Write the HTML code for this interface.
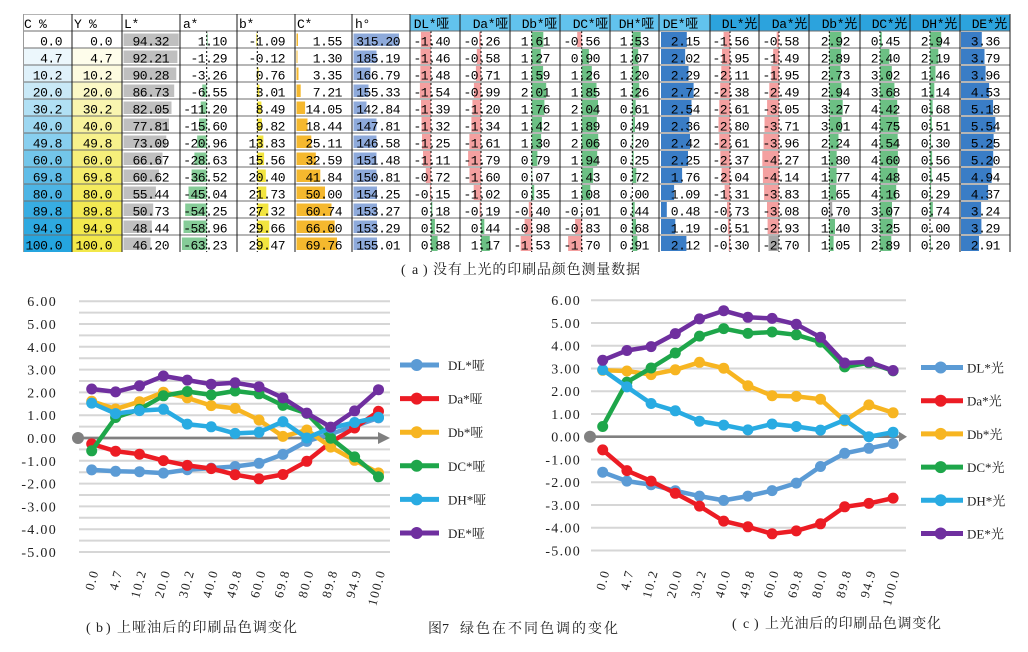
<!DOCTYPE html>
<html>
<head>
<meta charset="utf-8">
<style>
html,body{margin:0;padding:0;background:#fff;}
svg{display:block;}
.tx text{font-family:"Liberation Mono","Noto Sans CJK SC",monospace;font-size:13px;letter-spacing:-0.5px;text-anchor:end;fill:#000;}
.hd text{font-family:"Liberation Mono","Noto Sans CJK SC",monospace;font-size:13px;letter-spacing:-0.3px;fill:#000;}
.p{fill:#f4a0a0;}
.g{fill:#6cc084;}
.b{fill:#3a7dc6;}
.L{fill:#bfbfbf;}
.A{fill:#86cc98;}
.Y{fill:#f2e43f;}
.O{fill:#f5b82e;}
.H{fill:#8eaadb;}
.ax text{font-family:"Liberation Serif","Noto Serif CJK SC",serif;font-size:14px;letter-spacing:1.3px;text-anchor:end;fill:#222;}
.xl text{font-family:"Liberation Serif","Noto Serif CJK SC",serif;font-size:13px;letter-spacing:1.5px;text-anchor:end;fill:#222;}
.lg text{font-family:"Liberation Serif","Noto Serif CJK SC",serif;font-size:13px;fill:#222;}
.cap{font-family:"Liberation Serif","Noto Serif CJK SC",serif;font-size:14px;fill:#222;}
.grid line{stroke:#d6d6d6;stroke-width:2;}
.ser polyline{fill:none;stroke-width:4.5;stroke-linejoin:round;stroke-linecap:round;}
</style>
</head>
<body>
<svg width="1028" height="652" viewBox="0 0 1028 652" xmlns="http://www.w3.org/2000/svg">
<defs>
<marker id="m1" markerWidth="14" markerHeight="14" refX="7" refY="7" markerUnits="userSpaceOnUse"><circle cx="7" cy="7" r="5.5" fill="#5b9bd5"/></marker>
<marker id="m2" markerWidth="14" markerHeight="14" refX="7" refY="7" markerUnits="userSpaceOnUse"><circle cx="7" cy="7" r="5.5" fill="#ec1c24"/></marker>
<marker id="m3" markerWidth="14" markerHeight="14" refX="7" refY="7" markerUnits="userSpaceOnUse"><circle cx="7" cy="7" r="5.5" fill="#f7b521"/></marker>
<marker id="m4" markerWidth="14" markerHeight="14" refX="7" refY="7" markerUnits="userSpaceOnUse"><circle cx="7" cy="7" r="5.5" fill="#1ea64a"/></marker>
<marker id="m5" markerWidth="14" markerHeight="14" refX="7" refY="7" markerUnits="userSpaceOnUse"><circle cx="7" cy="7" r="5.5" fill="#29abe2"/></marker>
<marker id="m6" markerWidth="14" markerHeight="14" refX="7" refY="7" markerUnits="userSpaceOnUse"><circle cx="7" cy="7" r="5.5" fill="#6f2f9f"/></marker>
</defs>

<!-- ============ TABLE ============ -->
<rect x="410" y="14" width="300" height="17" fill="#62c3ee"/>
<rect x="710" y="14" width="300" height="17" fill="#2ca3dd"/>

<g class="hd">
<text x="24" y="28">C %</text>
<text x="74" y="28">Y %</text>
<text x="124" y="28">L*</text>
<text x="183" y="28">a*</text>
<text x="239" y="28">b*</text>
<text x="297" y="28">C*</text>
<text x="355" y="28">h°</text>
<text x="449" y="28" text-anchor="end">DL*哑</text>
<text x="508" y="28" text-anchor="end">Da*哑</text>
<text x="557" y="28" text-anchor="end">Db*哑</text>
<text x="608" y="28" text-anchor="end">DC*哑</text>
<text x="654" y="28" text-anchor="end">DH*哑</text>
<text x="698" y="28" text-anchor="end">DE*哑</text>
<text x="757" y="28" text-anchor="end">DL*光</text>
<text x="807" y="28" text-anchor="end">Da*光</text>
<text x="857" y="28" text-anchor="end">Db*光</text>
<text x="907" y="28" text-anchor="end">DC*光</text>
<text x="957" y="28" text-anchor="end">DH*光</text>
<text x="1007" y="28" text-anchor="end">DE*光</text>
</g>

<!-- Row 0 -->
<g transform="translate(0,31)">
<rect x="23" y="0" width="49" height="17" fill="#ffffff"/><rect x="72" y="0" width="50" height="17" fill="#ffffff"/>
<rect class="L" x="123.5" y="2.5" width="55.2" height="12.5"/>
<rect class="A" x="206.7" y="2.5" width="1" height="12.5"/>
<rect class="Y" x="256.3" y="2.5" width="1" height="12.5"/>
<rect class="O" x="296.5" y="2.5" width="1.5" height="12.5"/>
<rect class="H" x="353.5" y="2.5" width="45.5" height="12.5"/>
<rect class="p" x="420.9" y="1" width="10.1" height="15"/>
<rect class="p" x="479.1" y="1" width="1.9" height="15"/>
<rect class="g" x="531.7" y="1" width="11.6" height="15"/>
<rect class="p" x="577.2" y="1" width="4.5" height="15"/>
<rect class="g" x="632.3" y="1" width="8.4" height="15"/>
<rect class="b" x="661" y="1" width="25.8" height="15"/>
<rect class="p" x="723.6" y="1" width="6.4" height="15"/>
<rect class="p" x="776.7" y="1" width="2.3" height="15"/>
<rect class="g" x="829.3" y="1" width="12" height="15"/>
<rect class="g" x="880" y="1" width="1.8" height="15"/>
<rect class="g" x="930" y="1" width="11.2" height="15"/>
<rect class="b" x="961" y="1" width="20.8" height="15"/>
<g class="tx">
<text x="62" y="14.5">0.0</text><text x="112" y="14.5">0.0</text><text x="169" y="14.5">94.32</text><text x="227" y="14.5">1.10</text><text x="285" y="14.5">-1.09</text><text x="342" y="14.5">1.55</text><text x="400" y="14.5">315.20</text>
<text x="450" y="14.5">-1.40</text><text x="500" y="14.5">-0.26</text><text x="550" y="14.5">1.61</text><text x="600" y="14.5">-0.56</text><text x="649" y="14.5">1.53</text><text x="700" y="14.5">2.15</text>
<text x="749" y="14.5">-1.56</text><text x="799" y="14.5">-0.58</text><text x="850" y="14.5">2.92</text><text x="900" y="14.5">0.45</text><text x="950" y="14.5">2.94</text><text x="1000" y="14.5">3.36</text>
</g></g>

<!-- Row 1 -->
<g transform="translate(0,48)">
<rect x="23" y="0" width="49" height="17" fill="#ecf7fc"/><rect x="72" y="0" width="50" height="17" fill="#fefdeb"/>
<rect class="L" x="123.5" y="2.5" width="53.9" height="12.5"/>
<rect class="H" x="353.5" y="2.5" width="23" height="12.5"/>
<rect class="O" x="296.5" y="2.5" width="1" height="12.5"/>
<rect class="p" x="420.5" y="1" width="10.5" height="15"/>
<rect class="p" x="476.8" y="1" width="4.2" height="15"/>
<rect class="g" x="531.7" y="1" width="9.1" height="15"/>
<rect class="g" x="581.7" y="1" width="7.2" height="15"/>
<rect class="g" x="632.3" y="1" width="5.9" height="15"/>
<rect class="b" x="661" y="1" width="24.2" height="15"/>
<rect class="p" x="722" y="1" width="8" height="15"/>
<rect class="p" x="773.2" y="1" width="5.8" height="15"/>
<rect class="g" x="829.3" y="1" width="11.8" height="15"/>
<rect class="g" x="880" y="1" width="9.4" height="15"/>
<rect class="g" x="930" y="1" width="8.3" height="15"/>
<rect class="b" x="961" y="1" width="23.5" height="15"/>
<g class="tx">
<text x="62" y="14.5">4.7</text><text x="112" y="14.5">4.7</text><text x="169" y="14.5">92.21</text><text x="227" y="14.5">-1.29</text><text x="285" y="14.5">-0.12</text><text x="342" y="14.5">1.30</text><text x="400" y="14.5">185.19</text>
<text x="450" y="14.5">-1.46</text><text x="500" y="14.5">-0.58</text><text x="550" y="14.5">1.27</text><text x="600" y="14.5">0.90</text><text x="649" y="14.5">1.07</text><text x="700" y="14.5">2.02</text>
<text x="749" y="14.5">-1.95</text><text x="799" y="14.5">-1.49</text><text x="850" y="14.5">2.89</text><text x="900" y="14.5">2.40</text><text x="950" y="14.5">2.19</text><text x="1000" y="14.5">3.79</text>
</g></g>

<!-- Row 2 -->
<g transform="translate(0,65)">
<rect x="23" y="0" width="49" height="17" fill="#dff1fa"/><rect x="72" y="0" width="50" height="17" fill="#fdfbdf"/>
<rect class="L" x="123.5" y="2.5" width="52.8" height="12.5"/>
<rect class="Y" x="257.3" y="2.5" width="1.3" height="12.5"/>
<rect class="O" x="296.5" y="2.5" width="2" height="12.5"/>
<rect class="H" x="353.5" y="2.5" width="17" height="12.5"/>
<rect class="p" x="420.3" y="1" width="10.7" height="15"/>
<rect class="p" x="475.9" y="1" width="5.1" height="15"/>
<rect class="g" x="531.7" y="1" width="11.4" height="15"/>
<rect class="g" x="581.7" y="1" width="10.1" height="15"/>
<rect class="g" x="632.3" y="1" width="6.6" height="15"/>
<rect class="b" x="661" y="1" width="27.5" height="15"/>
<rect class="p" x="721.3" y="1" width="8.7" height="15"/>
<rect class="p" x="771.4" y="1" width="7.6" height="15"/>
<rect class="g" x="829.3" y="1" width="11.2" height="15"/>
<rect class="g" x="880" y="1" width="11.8" height="15"/>
<rect class="g" x="930" y="1" width="5.5" height="15"/>
<rect class="b" x="961" y="1" width="24.6" height="15"/>
<g class="tx">
<text x="62" y="14.5">10.2</text><text x="112" y="14.5">10.2</text><text x="169" y="14.5">90.28</text><text x="227" y="14.5">-3.26</text><text x="285" y="14.5">0.76</text><text x="342" y="14.5">3.35</text><text x="400" y="14.5">166.79</text>
<text x="450" y="14.5">-1.48</text><text x="500" y="14.5">-0.71</text><text x="550" y="14.5">1.59</text><text x="600" y="14.5">1.26</text><text x="649" y="14.5">1.20</text><text x="700" y="14.5">2.29</text>
<text x="749" y="14.5">-2.11</text><text x="799" y="14.5">-1.95</text><text x="850" y="14.5">2.73</text><text x="900" y="14.5">3.02</text><text x="950" y="14.5">1.46</text><text x="1000" y="14.5">3.96</text>
</g></g>

<!-- Row 3 -->
<g transform="translate(0,82)">
<rect x="23" y="0" width="49" height="17" fill="#c9e9f7"/><rect x="72" y="0" width="50" height="17" fill="#fbf8c6"/>
<rect class="L" x="123.5" y="2.5" width="50.7" height="12.5"/>
<rect class="A" x="202.3" y="2.5" width="4.4" height="12.5"/>
<rect class="Y" x="257.3" y="2.5" width="2.1" height="12.5"/>
<rect class="O" x="296.5" y="2.5" width="4.2" height="12.5"/>
<rect class="H" x="353.5" y="2.5" width="15" height="12.5"/>
<rect class="p" x="419.9" y="1" width="11.1" height="15"/>
<rect class="p" x="473.9" y="1" width="7.1" height="15"/>
<rect class="g" x="531.7" y="1" width="14.5" height="15"/>
<rect class="g" x="581.7" y="1" width="14.8" height="15"/>
<rect class="g" x="632.3" y="1" width="6.9" height="15"/>
<rect class="b" x="661" y="1" width="32.6" height="15"/>
<rect class="p" x="720.2" y="1" width="9.8" height="15"/>
<rect class="p" x="769.3" y="1" width="9.7" height="15"/>
<rect class="g" x="829.3" y="1" width="12.1" height="15"/>
<rect class="g" x="880" y="1" width="14.4" height="15"/>
<rect class="g" x="930" y="1" width="4.3" height="15"/>
<rect class="b" x="961" y="1" width="28.1" height="15"/>
<g class="tx">
<text x="62" y="14.5">20.0</text><text x="112" y="14.5">20.0</text><text x="169" y="14.5">86.73</text><text x="227" y="14.5">-6.55</text><text x="285" y="14.5">3.01</text><text x="342" y="14.5">7.21</text><text x="400" y="14.5">155.33</text>
<text x="450" y="14.5">-1.54</text><text x="500" y="14.5">-0.99</text><text x="550" y="14.5">2.01</text><text x="600" y="14.5">1.85</text><text x="649" y="14.5">1.26</text><text x="700" y="14.5">2.72</text>
<text x="749" y="14.5">-2.38</text><text x="799" y="14.5">-2.49</text><text x="850" y="14.5">2.94</text><text x="900" y="14.5">3.68</text><text x="950" y="14.5">1.14</text><text x="1000" y="14.5">4.53</text>
</g></g>

<!-- Row 4 -->
<g transform="translate(0,99)">
<rect x="23" y="0" width="49" height="17" fill="#b1e0f4"/><rect x="72" y="0" width="50" height="17" fill="#f9f5b0"/>
<rect class="L" x="123.5" y="2.5" width="48" height="12.5"/>
<rect class="A" x="200.7" y="2.5" width="6" height="12.5"/>
<rect class="Y" x="257.3" y="2.5" width="4.1" height="12.5"/>
<rect class="O" x="296.5" y="2.5" width="8.6" height="12.5"/>
<rect class="H" x="353.5" y="2.5" width="13" height="12.5"/>
<rect class="p" x="421" y="1" width="10" height="15"/>
<rect class="p" x="472.4" y="1" width="8.6" height="15"/>
<rect class="g" x="531.7" y="1" width="12.7" height="15"/>
<rect class="g" x="581.7" y="1" width="16.3" height="15"/>
<rect class="g" x="632.3" y="1" width="3.4" height="15"/>
<rect class="b" x="661" y="1" width="30.5" height="15"/>
<rect class="p" x="719.3" y="1" width="10.7" height="15"/>
<rect class="p" x="767.1" y="1" width="11.9" height="15"/>
<rect class="g" x="829.3" y="1" width="13.4" height="15"/>
<rect class="g" x="880" y="1" width="17.2" height="15"/>
<rect class="g" x="930" y="1" width="2.6" height="15"/>
<rect class="b" x="961" y="1" width="32.1" height="15"/>
<g class="tx">
<text x="62" y="14.5">30.2</text><text x="112" y="14.5">30.2</text><text x="169" y="14.5">82.05</text><text x="227" y="14.5">-11.20</text><text x="285" y="14.5">8.49</text><text x="342" y="14.5">14.05</text><text x="400" y="14.5">142.84</text>
<text x="450" y="14.5">-1.39</text><text x="500" y="14.5">-1.20</text><text x="550" y="14.5">1.76</text><text x="600" y="14.5">2.04</text><text x="649" y="14.5">0.61</text><text x="700" y="14.5">2.54</text>
<text x="749" y="14.5">-2.61</text><text x="799" y="14.5">-3.05</text><text x="850" y="14.5">3.27</text><text x="900" y="14.5">4.42</text><text x="950" y="14.5">0.68</text><text x="1000" y="14.5">5.18</text>
</g></g>

<!-- Row 5 -->
<g transform="translate(0,116)">
<rect x="23" y="0" width="49" height="17" fill="#9dd7f1"/><rect x="72" y="0" width="50" height="17" fill="#f8f39d"/>
<rect class="L" x="123.5" y="2.5" width="45.5" height="12.5"/>
<rect class="A" x="199.1" y="2.5" width="7.6" height="12.5"/>
<rect class="Y" x="257.3" y="2.5" width="4.6" height="12.5"/>
<rect class="O" x="296.5" y="2.5" width="11" height="12.5"/>
<rect class="H" x="353.5" y="2.5" width="23" height="12.5"/>
<rect class="p" x="421.5" y="1" width="9.5" height="15"/>
<rect class="p" x="471.4" y="1" width="9.6" height="15"/>
<rect class="g" x="531.7" y="1" width="10.2" height="15"/>
<rect class="g" x="581.7" y="1" width="15.1" height="15"/>
<rect class="g" x="632.3" y="1" width="2.7" height="15"/>
<rect class="b" x="661" y="1" width="28.3" height="15"/>
<rect class="p" x="718.5" y="1" width="11.5" height="15"/>
<rect class="p" x="764.5" y="1" width="14.5" height="15"/>
<rect class="g" x="829.3" y="1" width="12.3" height="15"/>
<rect class="g" x="880" y="1" width="18.5" height="15"/>
<rect class="g" x="930" y="1" width="1.9" height="15"/>
<rect class="b" x="961" y="1" width="34.3" height="15"/>
<g class="tx">
<text x="62" y="14.5">40.0</text><text x="112" y="14.5">40.0</text><text x="169" y="14.5">77.81</text><text x="227" y="14.5">-15.60</text><text x="285" y="14.5">9.82</text><text x="342" y="14.5">18.44</text><text x="400" y="14.5">147.81</text>
<text x="450" y="14.5">-1.32</text><text x="500" y="14.5">-1.34</text><text x="550" y="14.5">1.42</text><text x="600" y="14.5">1.89</text><text x="649" y="14.5">0.49</text><text x="700" y="14.5">2.36</text>
<text x="749" y="14.5">-2.80</text><text x="799" y="14.5">-3.71</text><text x="850" y="14.5">3.01</text><text x="900" y="14.5">4.75</text><text x="950" y="14.5">0.51</text><text x="1000" y="14.5">5.54</text>
</g></g>

<!-- Row 6 -->
<g transform="translate(0,133)">
<rect x="23" y="0" width="49" height="17" fill="#88cfef"/><rect x="72" y="0" width="50" height="17" fill="#f7f18c"/>
<rect class="L" x="123.5" y="2.5" width="42.8" height="12.5"/>
<rect class="A" x="197.2" y="2.5" width="9.5" height="12.5"/>
<rect class="Y" x="257.3" y="2.5" width="6.1" height="12.5"/>
<rect class="O" x="296.5" y="2.5" width="14.8" height="12.5"/>
<rect class="H" x="353.5" y="2.5" width="23" height="12.5"/>
<rect class="p" x="422" y="1" width="9" height="15"/>
<rect class="p" x="469.4" y="1" width="11.6" height="15"/>
<rect class="g" x="531.7" y="1" width="9.4" height="15"/>
<rect class="g" x="581.7" y="1" width="16.5" height="15"/>
<rect class="g" x="632.3" y="1" width="1.1" height="15"/>
<rect class="b" x="661" y="1" width="29" height="15"/>
<rect class="p" x="719.3" y="1" width="10.7" height="15"/>
<rect class="p" x="763.6" y="1" width="15.4" height="15"/>
<rect class="g" x="829.3" y="1" width="9.2" height="15"/>
<rect class="g" x="880" y="1" width="17.7" height="15"/>
<rect class="g" x="930" y="1" width="1.1" height="15"/>
<rect class="b" x="961" y="1" width="32.6" height="15"/>
<g class="tx">
<text x="62" y="14.5">49.8</text><text x="112" y="14.5">49.8</text><text x="169" y="14.5">73.09</text><text x="227" y="14.5">-20.96</text><text x="285" y="14.5">13.83</text><text x="342" y="14.5">25.11</text><text x="400" y="14.5">146.58</text>
<text x="450" y="14.5">-1.25</text><text x="500" y="14.5">-1.61</text><text x="550" y="14.5">1.30</text><text x="600" y="14.5">2.06</text><text x="649" y="14.5">0.20</text><text x="700" y="14.5">2.42</text>
<text x="749" y="14.5">-2.61</text><text x="799" y="14.5">-3.96</text><text x="850" y="14.5">2.24</text><text x="900" y="14.5">4.54</text><text x="950" y="14.5">0.30</text><text x="1000" y="14.5">5.25</text>
</g></g>

<!-- Row 7 -->
<g transform="translate(0,150)">
<rect x="23" y="0" width="49" height="17" fill="#73c6ea"/><rect x="72" y="0" width="50" height="17" fill="#f6ef7b"/>
<rect class="L" x="123.5" y="2.5" width="39" height="12.5"/>
<rect class="A" x="194.4" y="2.5" width="12.3" height="12.5"/>
<rect class="Y" x="257.3" y="2.5" width="6.8" height="12.5"/>
<rect class="O" x="296.5" y="2.5" width="19.3" height="12.5"/>
<rect class="H" x="353.5" y="2.5" width="23" height="12.5"/>
<rect class="p" x="423" y="1" width="8" height="15"/>
<rect class="p" x="468.1" y="1" width="12.9" height="15"/>
<rect class="g" x="531.7" y="1" width="5.7" height="15"/>
<rect class="g" x="581.7" y="1" width="15.5" height="15"/>
<rect class="g" x="632.3" y="1" width="1.4" height="15"/>
<rect class="b" x="661" y="1" width="27" height="15"/>
<rect class="p" x="720.3" y="1" width="9.7" height="15"/>
<rect class="p" x="762.3" y="1" width="16.7" height="15"/>
<rect class="g" x="829.3" y="1" width="7.4" height="15"/>
<rect class="g" x="880" y="1" width="17.9" height="15"/>
<rect class="g" x="930" y="1" width="2.1" height="15"/>
<rect class="b" x="961" y="1" width="32.2" height="15"/>
<g class="tx">
<text x="62" y="14.5">60.0</text><text x="112" y="14.5">60.0</text><text x="169" y="14.5">66.67</text><text x="227" y="14.5">-28.63</text><text x="285" y="14.5">15.56</text><text x="342" y="14.5">32.59</text><text x="400" y="14.5">151.48</text>
<text x="450" y="14.5">-1.11</text><text x="500" y="14.5">-1.79</text><text x="550" y="14.5">0.79</text><text x="600" y="14.5">1.94</text><text x="649" y="14.5">0.25</text><text x="700" y="14.5">2.25</text>
<text x="749" y="14.5">-2.37</text><text x="799" y="14.5">-4.27</text><text x="850" y="14.5">1.80</text><text x="900" y="14.5">4.60</text><text x="950" y="14.5">0.56</text><text x="1000" y="14.5">5.20</text>
</g></g>

<!-- Row 8 -->
<g transform="translate(0,167)">
<rect x="23" y="0" width="49" height="17" fill="#60bde8"/><rect x="72" y="0" width="50" height="17" fill="#f5ed6c"/>
<rect class="L" x="123.5" y="2.5" width="35.5" height="12.5"/>
<rect class="A" x="191.6" y="2.5" width="15.1" height="12.5"/>
<rect class="Y" x="257.3" y="2.5" width="8.5" height="12.5"/>
<rect class="O" x="296.5" y="2.5" width="23.8" height="12.5"/>
<rect class="H" x="353.5" y="2.5" width="23" height="12.5"/>
<rect class="p" x="425.8" y="1" width="5.2" height="15"/>
<rect class="p" x="469.5" y="1" width="11.5" height="15"/>
<rect class="g" x="531.7" y="1" width="0.6" height="15"/>
<rect class="g" x="581.7" y="1" width="11.4" height="15"/>
<rect class="g" x="632.3" y="1" width="4" height="15"/>
<rect class="b" x="661" y="1" width="21.1" height="15"/>
<rect class="p" x="721.6" y="1" width="8.4" height="15"/>
<rect class="p" x="762.9" y="1" width="16.1" height="15"/>
<rect class="g" x="829.3" y="1" width="7.3" height="15"/>
<rect class="g" x="880" y="1" width="17.5" height="15"/>
<rect class="g" x="930" y="1" width="1.7" height="15"/>
<rect class="b" x="961" y="1" width="30.6" height="15"/>
<g class="tx">
<text x="62" y="14.5">69.8</text><text x="112" y="14.5">69.8</text><text x="169" y="14.5">60.62</text><text x="227" y="14.5">-36.52</text><text x="285" y="14.5">20.40</text><text x="342" y="14.5">41.84</text><text x="400" y="14.5">150.81</text>
<text x="450" y="14.5">-0.72</text><text x="500" y="14.5">-1.60</text><text x="550" y="14.5">0.07</text><text x="600" y="14.5">1.43</text><text x="649" y="14.5">0.72</text><text x="700" y="14.5">1.76</text>
<text x="749" y="14.5">-2.04</text><text x="799" y="14.5">-4.14</text><text x="850" y="14.5">1.77</text><text x="900" y="14.5">4.48</text><text x="950" y="14.5">0.45</text><text x="1000" y="14.5">4.94</text>
</g></g>

<!-- Row 9 -->
<g transform="translate(0,184)">
<rect x="23" y="0" width="49" height="17" fill="#4db5e5"/><rect x="72" y="0" width="50" height="17" fill="#f4eb5e"/>
<rect class="L" x="123.5" y="2.5" width="32.4" height="12.5"/>
<rect class="A" x="188.5" y="2.5" width="18.2" height="12.5"/>
<rect class="Y" x="257.3" y="2.5" width="9" height="12.5"/>
<rect class="O" x="296.5" y="2.5" width="28.5" height="12.5"/>
<rect class="H" x="353.5" y="2.5" width="23.5" height="12.5"/>
<rect class="p" x="429.9" y="1" width="1.1" height="15"/>
<rect class="p" x="473.7" y="1" width="7.3" height="15"/>
<rect class="g" x="531.7" y="1" width="2.5" height="15"/>
<rect class="g" x="581.7" y="1" width="8.6" height="15"/>
<rect class="b" x="661" y="1" width="13.1" height="15"/>
<rect class="p" x="724.6" y="1" width="5.4" height="15"/>
<rect class="p" x="764.1" y="1" width="14.9" height="15"/>
<rect class="g" x="829.3" y="1" width="6.8" height="15"/>
<rect class="g" x="880" y="1" width="16.2" height="15"/>
<rect class="g" x="930" y="1" width="1.1" height="15"/>
<rect class="b" x="961" y="1" width="27.1" height="15"/>
<g class="tx">
<text x="62" y="14.5">80.0</text><text x="112" y="14.5">80.0</text><text x="169" y="14.5">55.44</text><text x="227" y="14.5">-45.04</text><text x="285" y="14.5">21.73</text><text x="342" y="14.5">50.00</text><text x="400" y="14.5">154.25</text>
<text x="450" y="14.5">-0.15</text><text x="500" y="14.5">-1.02</text><text x="550" y="14.5">0.35</text><text x="600" y="14.5">1.08</text><text x="649" y="14.5">0.00</text><text x="700" y="14.5">1.09</text>
<text x="749" y="14.5">-1.31</text><text x="799" y="14.5">-3.83</text><text x="850" y="14.5">1.65</text><text x="900" y="14.5">4.16</text><text x="950" y="14.5">0.29</text><text x="1000" y="14.5">4.37</text>
</g></g>

<!-- Row 10 -->
<g transform="translate(0,201)">
<rect x="23" y="0" width="49" height="17" fill="#38ade2"/><rect x="72" y="0" width="50" height="17" fill="#f3e953"/>
<rect class="L" x="123.5" y="2.5" width="29.7" height="12.5"/>
<rect class="A" x="185.2" y="2.5" width="21.5" height="12.5"/>
<rect class="Y" x="257.3" y="2.5" width="11.1" height="12.5"/>
<rect class="O" x="296.5" y="2.5" width="35" height="12.5"/>
<rect class="H" x="353.5" y="2.5" width="23.5" height="12.5"/>
<rect class="g" x="431" y="1" width="1.3" height="15"/>
<rect class="p" x="479.6" y="1" width="1.4" height="15"/>
<rect class="p" x="528.8" y="1" width="2.9" height="15"/>
<rect class="g" x="632.3" y="1" width="2.4" height="15"/>
<rect class="b" x="661" y="1" width="5.8" height="15"/>
<rect class="p" x="727" y="1" width="3" height="15"/>
<rect class="p" x="767" y="1" width="12" height="15"/>
<rect fill="#a8a8a8" x="829.3" y="1" width="2.9" height="15"/>
<rect class="g" x="880" y="1" width="12" height="15"/>
<rect class="g" x="930" y="1" width="2.8" height="15"/>
<rect class="b" x="961" y="1" width="20.1" height="15"/>
<g class="tx">
<text x="62" y="14.5">89.8</text><text x="112" y="14.5">89.8</text><text x="169" y="14.5">50.73</text><text x="227" y="14.5">-54.25</text><text x="285" y="14.5">27.32</text><text x="342" y="14.5">60.74</text><text x="400" y="14.5">153.27</text>
<text x="450" y="14.5">0.18</text><text x="500" y="14.5">-0.19</text><text x="550" y="14.5">-0.40</text><text x="600" y="14.5">-0.01</text><text x="649" y="14.5">0.44</text><text x="700" y="14.5">0.48</text>
<text x="749" y="14.5">-0.73</text><text x="799" y="14.5">-3.08</text><text x="850" y="14.5">0.70</text><text x="900" y="14.5">3.07</text><text x="950" y="14.5">0.74</text><text x="1000" y="14.5">3.24</text>
</g></g>

<!-- Row 11 -->
<g transform="translate(0,218)">
<rect x="23" y="0" width="49" height="17" fill="#2ea9e0"/><rect x="72" y="0" width="50" height="17" fill="#f3e94e"/>
<rect class="L" x="123.5" y="2.5" width="28.3" height="12.5"/>
<rect class="A" x="183.5" y="2.5" width="23.2" height="12.5"/>
<rect class="Y" x="257.3" y="2.5" width="12" height="12.5"/>
<rect class="O" x="296.5" y="2.5" width="38.2" height="12.5"/>
<rect class="H" x="353.5" y="2.5" width="23.5" height="12.5"/>
<rect class="g" x="431" y="1" width="3.9" height="15"/>
<rect class="g" x="481" y="1" width="3.3" height="15"/>
<rect class="p" x="524.6" y="1" width="7.1" height="15"/>
<rect class="p" x="575.1" y="1" width="6.6" height="15"/>
<rect class="g" x="632.3" y="1" width="3.7" height="15"/>
<rect class="b" x="661" y="1" width="14.3" height="15"/>
<rect class="p" x="727.9" y="1" width="2.1" height="15"/>
<rect class="p" x="767.6" y="1" width="11.4" height="15"/>
<rect class="g" x="829.3" y="1" width="5.7" height="15"/>
<rect class="g" x="880" y="1" width="12.7" height="15"/>
<rect class="b" x="961" y="1" width="20.4" height="15"/>
<g class="tx">
<text x="62" y="14.5">94.9</text><text x="112" y="14.5">94.9</text><text x="169" y="14.5">48.44</text><text x="227" y="14.5">-58.96</text><text x="285" y="14.5">29.66</text><text x="342" y="14.5">66.00</text><text x="400" y="14.5">153.29</text>
<text x="450" y="14.5">0.52</text><text x="500" y="14.5">0.44</text><text x="550" y="14.5">-0.98</text><text x="600" y="14.5">-0.83</text><text x="649" y="14.5">0.68</text><text x="700" y="14.5">1.19</text>
<text x="749" y="14.5">-0.51</text><text x="799" y="14.5">-2.93</text><text x="850" y="14.5">1.40</text><text x="900" y="14.5">3.25</text><text x="950" y="14.5">0.00</text><text x="1000" y="14.5">3.29</text>
</g></g>

<!-- Row 12 -->
<g transform="translate(0,235)">
<rect x="23" y="0" width="49" height="17" fill="#25a5df"/><rect x="72" y="0" width="50" height="17" fill="#f2e84a"/>
<rect class="L" x="123.5" y="2.5" width="27" height="12.5"/>
<rect class="A" x="181.9" y="2.5" width="24.8" height="12.5"/>
<rect class="Y" x="257.3" y="2.5" width="11.9" height="12.5"/>
<rect class="O" x="296.5" y="2.5" width="40.5" height="12.5"/>
<rect class="H" x="353.5" y="2.5" width="23.5" height="12.5"/>
<rect class="g" x="431" y="1" width="6.6" height="15"/>
<rect class="g" x="481" y="1" width="8.8" height="15"/>
<rect class="p" x="520.7" y="1" width="11" height="15"/>
<rect class="p" x="568.1" y="1" width="13.6" height="15"/>
<rect class="g" x="632.3" y="1" width="5" height="15"/>
<rect class="b" x="661" y="1" width="25.4" height="15"/>
<rect class="p" x="728.8" y="1" width="1.2" height="15"/>
<rect fill="#a8a8a8" x="768.5" y="1" width="10.5" height="15"/>
<rect class="g" x="829.3" y="1" width="4.3" height="15"/>
<rect class="g" x="880" y="1" width="11.3" height="15"/>
<rect class="g" x="930" y="1" width="0.8" height="15"/>
<rect class="b" x="961" y="1" width="18" height="15"/>
<g class="tx">
<text x="62" y="14.5">100.0</text><text x="112" y="14.5">100.0</text><text x="169" y="14.5">46.20</text><text x="227" y="14.5">-63.23</text><text x="285" y="14.5">29.47</text><text x="342" y="14.5">69.76</text><text x="400" y="14.5">155.01</text>
<text x="450" y="14.5">0.88</text><text x="500" y="14.5">1.17</text><text x="550" y="14.5">-1.53</text><text x="600" y="14.5">-1.70</text><text x="649" y="14.5">0.91</text><text x="700" y="14.5">2.12</text>
<text x="749" y="14.5">-0.30</text><text x="799" y="14.5">-2.70</text><text x="850" y="14.5">1.05</text><text x="900" y="14.5">2.89</text><text x="950" y="14.5">0.20</text><text x="1000" y="14.5">2.91</text>
</g></g>

<!-- dashed axis lines -->
<g stroke="#000" stroke-width="1" stroke-dasharray="2 2">
<line x1="206.7" y1="31" x2="206.7" y2="252"/>
<line x1="257.3" y1="31" x2="257.3" y2="252"/>
<line x1="431" y1="31" x2="431" y2="252"/>
<line x1="481" y1="31" x2="481" y2="252"/>
<line x1="531.7" y1="31" x2="531.7" y2="252"/>
<line x1="581.7" y1="31" x2="581.7" y2="252"/>
<line x1="632.3" y1="31" x2="632.3" y2="252"/>
<line x1="730" y1="31" x2="730" y2="252"/>
<line x1="779" y1="31" x2="779" y2="252"/>
<line x1="829.3" y1="31" x2="829.3" y2="252"/>
<line x1="880" y1="31" x2="880" y2="252"/>
<line x1="930" y1="31" x2="930" y2="252"/>
</g>

<!-- grid lines -->
<g stroke="#6e6e6e" stroke-width="1">
<line x1="23" y1="14.5" x2="1010" y2="14.5" stroke="#b4b4b4"/>
<line x1="23" y1="31" x2="1010" y2="31"/>
<line x1="23" y1="48" x2="1010" y2="48"/>
<line x1="23" y1="65" x2="1010" y2="65"/>
<line x1="23" y1="82" x2="1010" y2="82"/>
<line x1="23" y1="99" x2="1010" y2="99"/>
<line x1="23" y1="116" x2="1010" y2="116"/>
<line x1="23" y1="133" x2="1010" y2="133"/>
<line x1="23" y1="150" x2="1010" y2="150"/>
<line x1="23" y1="167" x2="1010" y2="167"/>
<line x1="23" y1="184" x2="1010" y2="184"/>
<line x1="23" y1="201" x2="1010" y2="201"/>
<line x1="23" y1="218" x2="1010" y2="218"/>
<line x1="23" y1="235" x2="1010" y2="235"/>
</g>
<g stroke="#1a1a1a" stroke-width="1">
<line x1="23.5" y1="14" x2="23.5" y2="252" stroke="#9a9a9a"/>
<line x1="72" y1="14" x2="72" y2="252"/>
<line x1="122" y1="14" x2="122" y2="252"/>
<line x1="180" y1="14" x2="180" y2="252"/>
<line x1="237" y1="14" x2="237" y2="252"/>
<line x1="295" y1="14" x2="295" y2="252"/>
<line x1="352" y1="14" x2="352" y2="252"/>
<line x1="410" y1="14" x2="410" y2="252"/>
<line x1="460" y1="14" x2="460" y2="252"/>
<line x1="510" y1="14" x2="510" y2="252"/>
<line x1="560" y1="14" x2="560" y2="252"/>
<line x1="610" y1="14" x2="610" y2="252"/>
<line x1="659" y1="14" x2="659" y2="252"/>
<line x1="710" y1="14" x2="710" y2="252"/>
<line x1="759" y1="14" x2="759" y2="252"/>
<line x1="809" y1="14" x2="809" y2="252"/>
<line x1="860" y1="14" x2="860" y2="252"/>
<line x1="910" y1="14" x2="910" y2="252"/>
<line x1="960" y1="14" x2="960" y2="252"/>
<line x1="1010" y1="14" x2="1010" y2="252"/>
</g>

<!-- caption a -->
<text class="cap" y="274"><tspan x="401">(</tspan><tspan x="412">a</tspan><tspan x="423">)</tspan></text>
<text class="cap" x="433" y="274" textLength="207" lengthAdjust="spacing">没有上光的印刷品颜色测量数据</text>

<!-- ============ LEFT CHART ============ -->
<g class="grid">
<line x1="79" y1="301.2" x2="390" y2="301.2"/>
<line x1="79" y1="312.6" x2="390" y2="312.6"/>
<line x1="79" y1="324" x2="390" y2="324"/>
<line x1="79" y1="335.4" x2="390" y2="335.4"/>
<line x1="79" y1="346.8" x2="390" y2="346.8"/>
<line x1="79" y1="358.2" x2="390" y2="358.2"/>
<line x1="79" y1="369.6" x2="390" y2="369.6"/>
<line x1="79" y1="381" x2="390" y2="381"/>
<line x1="79" y1="392.4" x2="390" y2="392.4"/>
<line x1="79" y1="403.8" x2="390" y2="403.8"/>
<line x1="79" y1="415.2" x2="390" y2="415.2"/>
<line x1="79" y1="426.6" x2="390" y2="426.6"/>
<line x1="79" y1="449.4" x2="390" y2="449.4"/>
<line x1="79" y1="460.8" x2="390" y2="460.8"/>
<line x1="79" y1="472.2" x2="390" y2="472.2"/>
<line x1="79" y1="483.6" x2="390" y2="483.6"/>
<line x1="79" y1="495" x2="390" y2="495"/>
<line x1="79" y1="506.4" x2="390" y2="506.4"/>
<line x1="79" y1="517.8" x2="390" y2="517.8"/>
<line x1="79" y1="529.2" x2="390" y2="529.2"/>
<line x1="79" y1="540.6" x2="390" y2="540.6"/>
<line x1="79" y1="552" x2="390" y2="552"/>
</g>
<line x1="79" y1="438" x2="382" y2="438" stroke="#808080" stroke-width="2.7"/>
<polygon points="378,432 390,438 378,444" fill="#808080"/>
<circle cx="78" cy="438" r="6" fill="#808080"/>

<g class="ax">
<text x="57" y="306">6.00</text>
<text x="57" y="329">5.00</text>
<text x="57" y="352">4.00</text>
<text x="57" y="374.5">3.00</text>
<text x="57" y="397.5">2.00</text>
<text x="57" y="420">1.00</text>
<text x="57" y="443">0.00</text>
<text x="57" y="466">-1.00</text>
<text x="57" y="488.5">-2.00</text>
<text x="57" y="511.5">-3.00</text>
<text x="57" y="534">-4.00</text>
<text x="57" y="557">-5.00</text>
</g>

<g class="ser">
<polyline stroke="#5b9bd5" marker-start="url(#m1)" marker-mid="url(#m1)" marker-end="url(#m1)" points="91.7,469.9 115.6,471.3 139.5,471.7 163.4,473.1 187.3,469.7 211.2,468.1 235.1,466.5 259,463.3 282.9,454.4 306.8,441.4 330.7,433.9 354.6,426.1 378.5,417.9"/>
<polyline stroke="#ec1c24" marker-start="url(#m2)" marker-mid="url(#m2)" marker-end="url(#m2)" points="91.7,443.9 115.6,451.2 139.5,454.2 163.4,460.6 187.3,465.4 211.2,468.6 235.1,474.7 259,478.8 282.9,474.5 306.8,461.3 330.7,442.3 354.6,428 378.5,411.3"/>
<polyline stroke="#f7b521" marker-start="url(#m3)" marker-mid="url(#m3)" marker-end="url(#m3)" points="91.7,401.3 115.6,409 139.5,401.7 163.4,392.2 187.3,397.9 211.2,405.6 235.1,408.4 259,420 282.9,436.4 306.8,430 330.7,447.1 354.6,460.3 378.5,472.9"/>
<polyline stroke="#1ea64a" marker-start="url(#m4)" marker-mid="url(#m4)" marker-end="url(#m4)" points="91.7,450.8 115.6,417.5 139.5,409.3 163.4,395.8 187.3,391.5 211.2,394.9 235.1,391 259,393.8 282.9,405.4 306.8,413.4 330.7,438.2 354.6,456.9 378.5,476.8"/>
<polyline stroke="#29abe2" marker-start="url(#m5)" marker-mid="url(#m5)" marker-end="url(#m5)" points="91.7,403.1 115.6,413.6 139.5,410.6 163.4,409.3 187.3,424.1 211.2,426.8 235.1,433.4 259,432.3 282.9,421.6 306.8,438 330.7,428 354.6,422.5 378.5,417.3"/>
<polyline stroke="#6f2f9f" marker-start="url(#m6)" marker-mid="url(#m6)" marker-end="url(#m6)" points="91.7,389 115.6,391.9 139.5,385.8 163.4,376 187.3,380.1 211.2,384.2 235.1,382.8 259,386.7 282.9,397.9 306.8,413.1 330.7,427.1 354.6,410.9 378.5,389.7"/>
</g>

<g class="xl">
<text transform="translate(98.7,571) rotate(-75)">0.0</text>
<text transform="translate(122.6,571) rotate(-75)">4.7</text>
<text transform="translate(146.5,571) rotate(-75)">10.2</text>
<text transform="translate(170.4,571) rotate(-75)">20.0</text>
<text transform="translate(194.3,571) rotate(-75)">30.2</text>
<text transform="translate(218.2,571) rotate(-75)">40.0</text>
<text transform="translate(242.1,571) rotate(-75)">49.8</text>
<text transform="translate(266,571) rotate(-75)">60.0</text>
<text transform="translate(289.9,571) rotate(-75)">69.8</text>
<text transform="translate(313.8,571) rotate(-75)">80.0</text>
<text transform="translate(337.7,571) rotate(-75)">89.8</text>
<text transform="translate(361.6,571) rotate(-75)">94.9</text>
<text transform="translate(385.5,571) rotate(-75)">100.0</text>
</g>

<g class="lg">
<line x1="400" y1="365" x2="439" y2="365" stroke="#5b9bd5" stroke-width="5"/><circle cx="416.7" cy="365" r="6" fill="#5b9bd5"/><text x="448" y="370">DL*哑</text>
<line x1="400" y1="398.6" x2="439" y2="398.6" stroke="#ec1c24" stroke-width="5"/><circle cx="416.7" cy="398.6" r="6" fill="#ec1c24"/><text x="448" y="403.6">Da*哑</text>
<line x1="400" y1="432.2" x2="439" y2="432.2" stroke="#f7b521" stroke-width="5"/><circle cx="416.7" cy="432.2" r="6" fill="#f7b521"/><text x="448" y="437.2">Db*哑</text>
<line x1="400" y1="465.8" x2="439" y2="465.8" stroke="#1ea64a" stroke-width="5"/><circle cx="416.7" cy="465.8" r="6" fill="#1ea64a"/><text x="448" y="470.8">DC*哑</text>
<line x1="400" y1="499.4" x2="439" y2="499.4" stroke="#29abe2" stroke-width="5"/><circle cx="416.7" cy="499.4" r="6" fill="#29abe2"/><text x="448" y="504.4">DH*哑</text>
<line x1="400" y1="533" x2="439" y2="533" stroke="#6f2f9f" stroke-width="5"/><circle cx="416.7" cy="533" r="6" fill="#6f2f9f"/><text x="448" y="538">DE*哑</text>
</g>

<text class="cap" y="632"><tspan x="86">(</tspan><tspan x="96">b</tspan><tspan x="106">)</tspan></text>
<text class="cap" x="117" y="632" textLength="180" lengthAdjust="spacing">上哑油后的印刷品色调变化</text>
<text class="cap" x="428" y="633">图7</text>
<text class="cap" x="460" y="633" textLength="158" lengthAdjust="spacing">绿色在不同色调的变化</text>

<!-- ============ RIGHT CHART ============ -->
<g class="grid">
<line x1="591" y1="300.2" x2="906" y2="300.2"/>
<line x1="591" y1="322.95" x2="906" y2="322.95"/>
<line x1="591" y1="345.7" x2="906" y2="345.7"/>
<line x1="591" y1="368.45" x2="906" y2="368.45"/>
<line x1="591" y1="391.2" x2="906" y2="391.2"/>
<line x1="591" y1="413.95" x2="906" y2="413.95"/>
<line x1="591" y1="459.45" x2="906" y2="459.45"/>
<line x1="591" y1="482.2" x2="906" y2="482.2"/>
<line x1="591" y1="504.95" x2="906" y2="504.95"/>
<line x1="591" y1="527.7" x2="906" y2="527.7"/>
<line x1="591" y1="550.45" x2="906" y2="550.45"/>
</g>
<line x1="591" y1="436.7" x2="900" y2="436.7" stroke="#808080" stroke-width="2.7"/>
<polygon points="899,431.7 907,436.7 899,441.7" fill="#808080"/>
<circle cx="590" cy="436.7" r="6" fill="#808080"/>

<g class="ax">
<text x="581" y="305.2">6.00</text>
<text x="581" y="328">5.00</text>
<text x="581" y="350.7">4.00</text>
<text x="581" y="373.5">3.00</text>
<text x="581" y="396.2">2.00</text>
<text x="581" y="419">1.00</text>
<text x="581" y="441.7">0.00</text>
<text x="581" y="464.5">-1.00</text>
<text x="581" y="487.2">-2.00</text>
<text x="581" y="510">-3.00</text>
<text x="581" y="532.7">-4.00</text>
<text x="581" y="555.5">-5.00</text>
</g>

<g class="ser">
<polyline stroke="#5b9bd5" marker-start="url(#m1)" marker-mid="url(#m1)" marker-end="url(#m1)" points="602.7,472.2 626.9,481.1 651.1,484.7 675.3,490.8 699.5,496.1 723.7,500.4 747.9,496.1 772.1,490.6 796.3,483.1 820.5,466.5 844.7,453.3 868.9,448.3 893.1,443.5"/>
<polyline stroke="#ec1c24" marker-start="url(#m2)" marker-mid="url(#m2)" marker-end="url(#m2)" points="602.7,449.9 626.9,470.6 651.1,481.1 675.3,493.3 699.5,506.1 723.7,521.1 747.9,526.8 772.1,533.8 796.3,530.9 820.5,523.8 844.7,506.8 868.9,503.4 893.1,498.1"/>
<polyline stroke="#f7b521" marker-start="url(#m3)" marker-mid="url(#m3)" marker-end="url(#m3)" points="602.7,370.3 626.9,371 651.1,374.6 675.3,369.8 699.5,362.3 723.7,368.2 747.9,385.7 772.1,395.7 796.3,396.4 820.5,399.2 844.7,420.8 868.9,404.9 893.1,412.8"/>
<polyline stroke="#1ea64a" marker-start="url(#m4)" marker-mid="url(#m4)" marker-end="url(#m4)" points="602.7,426.5 626.9,382.1 651.1,368 675.3,353 699.5,336.1 723.7,328.6 747.9,333.4 772.1,332 796.3,334.8 820.5,342.1 844.7,366.9 868.9,362.8 893.1,370.9"/>
<polyline stroke="#29abe2" marker-start="url(#m5)" marker-mid="url(#m5)" marker-end="url(#m5)" points="602.7,369.8 626.9,386.9 651.1,403.5 675.3,410.8 699.5,421.2 723.7,425.1 747.9,429.9 772.1,424 796.3,426.5 820.5,430.1 844.7,419.9 868.9,436.7 893.1,432.2"/>
<polyline stroke="#6f2f9f" marker-start="url(#m6)" marker-mid="url(#m6)" marker-end="url(#m6)" points="602.7,360.3 626.9,350.5 651.1,346.6 675.3,333.6 699.5,318.9 723.7,310.7 747.9,317.3 772.1,318.4 796.3,324.3 820.5,337.3 844.7,363 868.9,361.9 893.1,370.5"/>
</g>

<g class="xl">
<text transform="translate(609.7,571) rotate(-75)">0.0</text>
<text transform="translate(633.9,571) rotate(-75)">4.7</text>
<text transform="translate(658.1,571) rotate(-75)">10.2</text>
<text transform="translate(682.3,571) rotate(-75)">20.0</text>
<text transform="translate(706.5,571) rotate(-75)">30.2</text>
<text transform="translate(730.7,571) rotate(-75)">40.0</text>
<text transform="translate(754.9,571) rotate(-75)">49.8</text>
<text transform="translate(779.1,571) rotate(-75)">60.0</text>
<text transform="translate(803.3,571) rotate(-75)">69.8</text>
<text transform="translate(827.5,571) rotate(-75)">80.0</text>
<text transform="translate(851.7,571) rotate(-75)">89.8</text>
<text transform="translate(875.9,571) rotate(-75)">94.9</text>
<text transform="translate(900.1,571) rotate(-75)">100.0</text>
</g>

<g class="lg">
<line x1="921" y1="367.5" x2="963" y2="367.5" stroke="#5b9bd5" stroke-width="5"/><circle cx="940.7" cy="367.5" r="6" fill="#5b9bd5"/><text x="967" y="372.5">DL*光</text>
<line x1="921" y1="400.7" x2="963" y2="400.7" stroke="#ec1c24" stroke-width="5"/><circle cx="940.7" cy="400.7" r="6" fill="#ec1c24"/><text x="967" y="405.7">Da*光</text>
<line x1="921" y1="433.9" x2="963" y2="433.9" stroke="#f7b521" stroke-width="5"/><circle cx="940.7" cy="433.9" r="6" fill="#f7b521"/><text x="967" y="438.9">Db*光</text>
<line x1="921" y1="467.1" x2="963" y2="467.1" stroke="#1ea64a" stroke-width="5"/><circle cx="940.7" cy="467.1" r="6" fill="#1ea64a"/><text x="967" y="472.1">DC*光</text>
<line x1="921" y1="500.3" x2="963" y2="500.3" stroke="#29abe2" stroke-width="5"/><circle cx="940.7" cy="500.3" r="6" fill="#29abe2"/><text x="967" y="505.3">DH*光</text>
<line x1="921" y1="533.5" x2="963" y2="533.5" stroke="#6f2f9f" stroke-width="5"/><circle cx="940.7" cy="533.5" r="6" fill="#6f2f9f"/><text x="967" y="538.5">DE*光</text>
</g>

<text class="cap" y="628"><tspan x="732">(</tspan><tspan x="743">c</tspan><tspan x="754">)</tspan></text>
<text class="cap" x="765" y="628" textLength="176" lengthAdjust="spacing">上光油后的印刷品色调变化</text>
</svg>
</body>
</html>
